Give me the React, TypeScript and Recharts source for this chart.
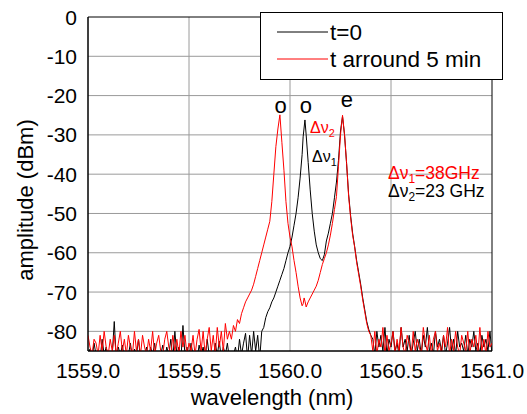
import React from "react";
import {
  LineChart,
  Line,
  XAxis,
  YAxis,
  CartesianGrid,
  ReferenceArea,
  ReferenceDot,
} from "recharts";

// sampling grid of the noise floor (nm)
const NOISE_STEP = 0.01;

// t=0 (black)
const blackNoiseLeftStart = 1559.0;
const blackNoiseLeft = [
  -86, -84.5, -87, -83, -86, -85, -87, -82, -86, -84,
  -87, -85, -86, -77.5, -87, -84, -86, -83.5, -87, -85,
  -86, -83, -87, -84.5, -86, -82, -87, -85, -86, -84,
  -87, -84, -86, -83, -87, -85, -86, -83.5, -87, -84,
  -86, -82, -87, -80, -86, -84, -87, -78.5, -86, -84,
  -87, -83, -86, -85, -87, -83.5, -86, -84, -87, -82,
  -86, -85, -87, -83, -86, -82.5, -87, -84, -86, -83,
  -87, -85, -86, -84, -87, -82, -86, -83, -80.5, -87,
  -81, -86, -80, -85, -81, -87, -80,
];
const blackPeakWl = [
  1559.87, 1559.88, 1559.89, 1559.9, 1559.91, 1559.92, 1559.93, 1559.94, 1559.95, 1559.96,
  1559.97, 1559.98, 1559.99, 1560.0, 1560.01, 1560.02, 1560.03, 1560.04, 1560.05, 1560.06,
  1560.065, 1560.074, 1560.08, 1560.09, 1560.1, 1560.11, 1560.12, 1560.13, 1560.14, 1560.15,
  1560.16, 1560.17, 1560.18, 1560.19, 1560.2, 1560.21, 1560.22, 1560.23, 1560.24, 1560.25,
  1560.26, 1560.27, 1560.28, 1560.29, 1560.3, 1560.31, 1560.32, 1560.33, 1560.34, 1560.35,
  1560.36, 1560.37, 1560.38, 1560.39, 1560.4,
];
const blackPeakDb = [
  -79, -76.5, -75, -74, -72.5, -71.5, -70, -68.5, -67, -65.5,
  -64, -62, -60, -58.4, -56, -53, -50, -46, -41, -35,
  -30.5, -26.2, -30, -37, -44, -50, -54.5, -58, -60, -61.5,
  -62, -60.5, -57, -55, -52.5, -50, -46, -42, -36.5, -29,
  -25.3, -30, -37.2, -45, -50.5, -55, -58.4, -62, -65, -68,
  -71.5, -74.5, -77.5, -79.5, -81,
];
const blackNoiseRightStart = 1560.41;
const blackNoiseRight = [
  -82, -86, -80, -84, -81, -85, -79, -86, -82, -84,
  -80, -85, -83, -86, -79, -84, -82, -85, -81, -86,
  -83, -80, -85, -82, -86, -81, -84, -79, -85, -83,
  -86, -80, -84, -82, -85, -81, -86, -83, -79, -85,
  -82, -86, -80, -84, -83, -85, -81, -86, -82, -84,
  -80, -85, -83, -86, -81, -84, -82, -85, -80, -86,
];

// t around 5 min (red)
const redNoiseLeftStart = 1559.0;
const redNoiseLeft = [
  -81, -84, -86, -82, -83, -86, -81, -85, -80, -84,
  -86, -82, -85, -81, -86, -83, -80, -85, -82, -86,
  -81, -84, -86, -80, -85, -82, -86, -81, -84, -86,
  -82, -85, -80, -86, -83, -81, -85, -86, -82, -80,
  -84, -86, -81, -85, -82, -86, -80, -84, -81, -86,
  -83, -85, -81, -86, -82, -79.5, -85, -80, -86, -82,
  -79, -85, -81, -86, -79, -84, -80, -85, -78, -82,
];
const redPeakWl = [
  1559.7, 1559.71, 1559.72, 1559.73, 1559.74, 1559.75, 1559.76, 1559.77, 1559.78, 1559.79,
  1559.8, 1559.81, 1559.82, 1559.83, 1559.84, 1559.85, 1559.86, 1559.87, 1559.88, 1559.89,
  1559.9, 1559.91, 1559.92, 1559.93, 1559.94, 1559.95, 1559.96, 1559.97, 1559.98, 1559.99,
  1560.0, 1560.01, 1560.02, 1560.03, 1560.04, 1560.05, 1560.06, 1560.065, 1560.07, 1560.075,
  1560.08, 1560.09, 1560.1, 1560.11, 1560.12, 1560.13, 1560.14, 1560.15, 1560.16, 1560.17,
  1560.18, 1560.19, 1560.2, 1560.21, 1560.22, 1560.23, 1560.24, 1560.25, 1560.26, 1560.27,
  1560.28, 1560.29, 1560.3, 1560.31, 1560.32, 1560.33, 1560.34, 1560.35, 1560.36, 1560.37,
  1560.38, 1560.39,
];
const redPeakDb = [
  -80, -82, -78.5, -80, -77, -78, -75.5, -74, -72.5, -71.5,
  -70.5, -69.5, -68, -66, -64, -62, -60, -58, -56, -54,
  -52, -47, -40, -33, -28.5, -24.9, -32, -39, -47, -52.5,
  -56, -58.5, -62, -65, -68.5, -71.5, -73.5, -73, -71.5, -72.5,
  -73.8, -72.5, -71.5, -70.5, -69.5, -68.5, -67, -65, -63, -61.5,
  -60, -58, -55.5, -52.5, -49, -45.7, -38, -30, -25, -30,
  -37, -45.5, -51, -55.5, -58.5, -62.5, -65.5, -68.5, -72, -75,
  -78, -80,
];
const redNoiseRightStart = 1560.4;
const redNoiseRight = [
  -81, -85, -80, -86, -82, -84, -79, -86, -81, -85,
  -83, -80, -86, -82, -85, -79, -84, -86, -81, -83,
  -86, -80, -85, -82, -84, -86, -79, -83, -85, -81,
  -86, -82, -80, -85, -83, -86, -81, -84, -79, -86,
  -82, -85, -80, -84, -86, -81, -83, -85, -80, -86,
  -82, -84, -81, -86, -79, -85, -82, -86, -80, -84,
  -83,
];

const xTicks = [1559.0, 1559.5, 1560.0, 1560.5, 1561.0];
const yTicks = [0, -5, -10, -15, -20, -25, -30, -35, -40, -45, -50, -55, -60, -65, -70, -75, -80];
const yMajor = [0, -10, -20, -30, -40, -50, -60, -70, -80];

const seriesNames = ["t=0", "t arround 5 min"];
const seriesColors = ["#000000", "#ff0000"];

const FONT = "'Liberation Sans', Arial, Helvetica, sans-serif";

type Pt = { wl: number; db: number };

const build = (
  leftStart: number,
  left: number[],
  peakWl: number[],
  peakDb: number[],
  rightStart: number,
  right: number[]
): Pt[] => [
  ...left.map((db, i) => ({ wl: +(leftStart + i * NOISE_STEP).toFixed(3), db })),
  ...peakWl.map((wl, i) => ({ wl, db: peakDb[i] })),
  ...right.map((db, i) => ({ wl: +(rightStart + i * NOISE_STEP).toFixed(3), db })),
];

const blackData = build(blackNoiseLeftStart, blackNoiseLeft, blackPeakWl, blackPeakDb, blackNoiseRightStart, blackNoiseRight);
const redData = build(redNoiseLeftStart, redNoiseLeft, redPeakWl, redPeakDb, redNoiseRightStart, redNoiseRight);

// peak labels: [wavelength, dB, text]
const peakLabels: [number, number, string][] = [
  [1559.954, -24.4, "o"],
  [1560.078, -24.4, "o"],
  [1560.282, -22.9, "e"],
];

// delta-nu annotations: [wavelength, dB, subscript, rest, color, font size]
const deltaLabels: [number, number, string, string, string, number][] = [
  [1560.099, -29.6, "2", "", "#ff0000", 16],
  [1560.109, -36.8, "1", "", "#000000", 16],
  [1560.485, -41.2, "1", "=38GHz", "#ff0000", 17.5],
  [1560.485, -45.8, "2", "=23 GHz", "#000000", 17.5],
];

const YTick = (props: any) => {
  const { x, y, payload } = props;
  const v = payload.value;
  if (yMajor.includes(v)) {
    return (
      <text x={x} y={y} dy="0.36em" textAnchor="end" fontSize={21} fontFamily={FONT} fill="#000">
        {v}
      </text>
    );
  }
  return <line x1={x + 11} x2={x + 16} y1={y} y2={y} stroke="#000" strokeWidth={1} />;
};

const LegendBox = () => (
  <svg width={243} height={68} style={{ position: "absolute", left: 260, top: 12 }}>
    <rect x={0.5} y={0.5} width={242} height={67} fill="#fff" stroke="#000" strokeWidth={1} />
    {seriesNames.map((n, i) => (
      <g key={n}>
        <line x1={17} x2={68} y1={20 + i * 27} y2={20 + i * 27} stroke={seriesColors[i]} strokeWidth={1} />
        <text x={70} y={27.5 + i * 27} fontSize={22.5} fontFamily={FONT} fill="#000">
          {n}
        </text>
      </g>
    ))}
  </svg>
);

export default function App() {
  return (
    <div style={{ position: "absolute", left: 0, top: 0, width: 527, height: 414, background: "#fff" }}>
      <LineChart width={527} height={414} margin={{ top: 17, right: 35, left: 0, bottom: 0 }}>
        <CartesianGrid
          stroke="#9a9a9a"
          strokeWidth={1}
          horizontalValues={[-10, -20, -30, -40, -50, -60, -70, -80]}
          verticalValues={[1559.5, 1560.0, 1560.5]}
        />
        <XAxis
          dataKey="wl"
          type="number"
          domain={[1559, 1561]}
          ticks={xTicks}
          tickFormatter={(v: number) => v.toFixed(1)}
          allowDataOverflow
          height={63}
          tickLine={false}
          tickSize={0}
          tickMargin={12}
          axisLine={{ stroke: "#000" }}
          tick={{ fontSize: 21, fill: "#000", fontFamily: FONT }}
          label={{
            value: "wavelength (nm)",
            position: "insideBottom",
            offset: 9,
            dx: -18,
            fontSize: 22,
            fill: "#000",
            fontFamily: FONT,
          }}
        />
        <YAxis
          dataKey="db"
          type="number"
          domain={[-85, 0]}
          ticks={yTicks}
          allowDataOverflow
          width={88}
          tickLine={false}
          tickSize={0}
          tickMargin={11}
          axisLine={{ stroke: "#000" }}
          tick={<YTick />}
          label={{
            content: () => (
              <text
                x={33}
                y={200}
                transform="rotate(-90 33 200)"
                textAnchor="middle"
                fontSize={22}
                fontFamily={FONT}
                fill="#000"
              >
                amplitude (dBm)
              </text>
            ),
          }}
        />
        <ReferenceArea x1={1559} x2={1561} y1={-85} y2={0} fill="none" stroke="#000" strokeWidth={1} ifOverflow="visible" />
        <Line
          data={blackData}
          dataKey="db"
          name={seriesNames[0]}
          stroke={seriesColors[0]}
          strokeWidth={1}
          dot={false}
          type="linear"
          isAnimationActive={false}
        />
        <Line
          data={redData}
          dataKey="db"
          name={seriesNames[1]}
          stroke={seriesColors[1]}
          strokeWidth={1}
          dot={false}
          type="linear"
          isAnimationActive={false}
        />
        {peakLabels.map(([wl, db, t], i) => (
          <ReferenceDot
            key={"p" + i}
            x={wl}
            y={db}
            r={0}
            ifOverflow="visible"
            shape={(p: any) => (
              <text x={p.cx} y={p.cy} textAnchor="middle" fontSize={22} fontFamily={FONT} fill="#000">
                {t}
              </text>
            )}
          />
        ))}
        {deltaLabels.map(([wl, db, sub, rest, c, fs], i) => (
          <ReferenceDot
            key={"d" + i}
            x={wl}
            y={db}
            r={0}
            ifOverflow="visible"
            shape={(p: any) => (
              <text x={p.cx} y={p.cy} fontSize={fs} fontFamily={FONT} fill={c}>
                {"\u0394\u03bd"}
                <tspan dy={4} fontSize={fs * 0.68}>
                  {sub}
                </tspan>
                {rest ? <tspan dy={-4}>{rest}</tspan> : null}
              </text>
            )}
          />
        ))}
      </LineChart>
      <LegendBox />
    </div>
  );
}
